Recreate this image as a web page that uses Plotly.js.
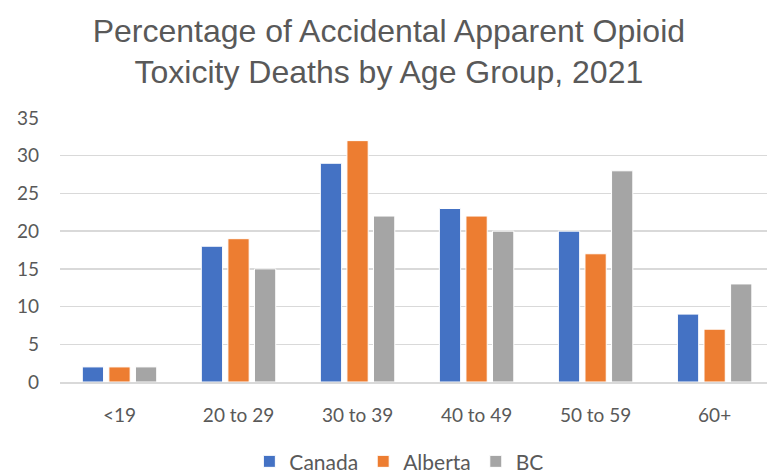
<!DOCTYPE html>
<html>
<head>
<meta charset="utf-8">
<script src="https://cdn.plot.ly/plotly-3.0.1.min.js"></script>
<style>
  html, body { margin: 0; padding: 0; background: #fff; }
  #chart { width: 767px; height: 475px; }
</style>
</head>
<body>
<div id="chart"></div>
<script>
/* Opioid toxicity deaths by age group, 2021 — percent of deaths */
var ageGroups = ['<19', '20 to 29', '30 to 39', '40 to 49', '50 to 59', '60+'];
var canada  = [2, 18, 29, 23, 20, 9];
var alberta = [2, 19, 32, 22, 17, 7];
var bc      = [2, 15, 22, 20, 28, 13];
var seriesNames = ['Canada', 'Alberta', 'BC'];
var seriesColors = ['#4472C4', '#ED7D31', '#A5A5A5'];

var tickFont = { family: 'Lato, "Open Sans", sans-serif', size: 19, color: '#595959' };

var traces = [canada, alberta, bc].map(function (vals, i) {
  return {
    type: 'bar',
    x: ageGroups,
    y: vals,
    name: seriesNames[i],
    marker: { color: seriesColors[i], line: { color: '#ffffff', width: 1 } },
    hoverinfo: 'skip'
  };
});

Plotly.newPlot('chart', traces, {
  width: 767,
  height: 475,
  margin: { l: 60, r: 0, t: 118, b: 93 },
  paper_bgcolor: '#ffffff',
  plot_bgcolor: '#ffffff',
  title: {
    text: 'Percentage of Accidental Apparent Opioid<br>Toxicity Deaths by Age Group, 2021',
    font: { family: '"Liberation Sans", Arial, sans-serif', size: 32, color: '#595959' },
    x: 0.507, xanchor: 'center',
    y: 0.912, yanchor: 'middle'
  },
  barmode: 'group',
  bargap: 0.33,
  bargroupgap: 0.2,
  xaxis: {
    type: 'category',
    range: [-0.5, 5.44],
    showgrid: false,
    showline: true,
    linecolor: '#d9d9d9',
    linewidth: 1.5,
    ticks: '',
    ticklabelstandoff: 16,
    tickfont: tickFont,
    fixedrange: true
  },
  yaxis: {
    range: [0, 35],
    dtick: 5,
    showgrid: true,
    gridcolor: '#d9d9d9',
    gridwidth: 1.5,
    zeroline: false,
    showline: false,
    ticks: '',
    ticklabelstandoff: 20,
    tickfont: tickFont,
    fixedrange: true
  },
  showlegend: true,
  legend: {
    orientation: 'h',
    x: 0.48, xanchor: 'center',
    yref: 'container',
    y: 0.028, yanchor: 'middle',
    font: { family: 'Lato, "Open Sans", sans-serif', size: 21, color: '#595959' },
    itemwidth: 30,
    traceorder: 'normal'
  }
}, { displayModeBar: false, staticPlot: true });
</script>
</body>
</html>
